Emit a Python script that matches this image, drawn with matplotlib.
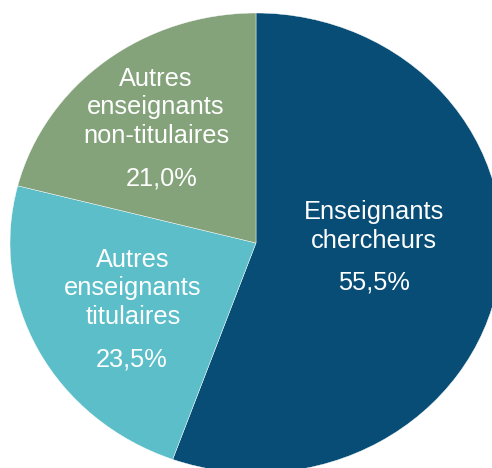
import matplotlib.pyplot as plt
import matplotlib.transforms as mtransforms

categories = ["Enseignants\nchercheurs", "Autres\nenseignants\ntitulaires",
              "Autres\nenseignants\nnon-titulaires"]
shares = [55.5, 23.5, 21.0]
pct_labels = ["55,5%", "23,5%", "21,0%"]

colors = ["#084d76", "#5bbec9", "#84a37b"]
# where the percentage baseline sits (data units, pie radius = 1)
label_pos = [(0.480, -0.204), (-0.504, -0.535), (-0.382, 0.252)]
name_dx = [0, 1, -6]  # pixel nudge of the name block

plt.rcParams['font.family'] = ['Liberation Sans', 'DejaVu Sans']

fig = plt.figure(figsize=(4.92, 4.68), dpi=100)
ax = fig.add_axes([0, 0, 1, 1])

wedges, _ = ax.pie(shares, colors=colors, startangle=90, counterclock=False,
                   wedgeprops=dict(edgecolor='white', linewidth=0.3))

# the original pie is a bit wider than tall
ax.set_aspect('auto')
ax.set_xlim(-256 / 246, 236 / 246)
ax.set_ylim(-225 / 230, 243 / 230)
ax.axis('off')

for name, pct, (x, y), dx in zip(categories, pct_labels, label_pos, name_dx):
    ax.text(x, y, pct, color='white', fontsize=18.3, ha='center', va='baseline')
    tr = mtransforms.offset_copy(ax.transData, fig, x=dx, y=37, units='dots')
    ax.text(x, y, name, color='white', fontsize=18.3, ha='center', va='bottom',
            linespacing=1.25, transform=tr)

fig.savefig("out.png", dpi=100)
